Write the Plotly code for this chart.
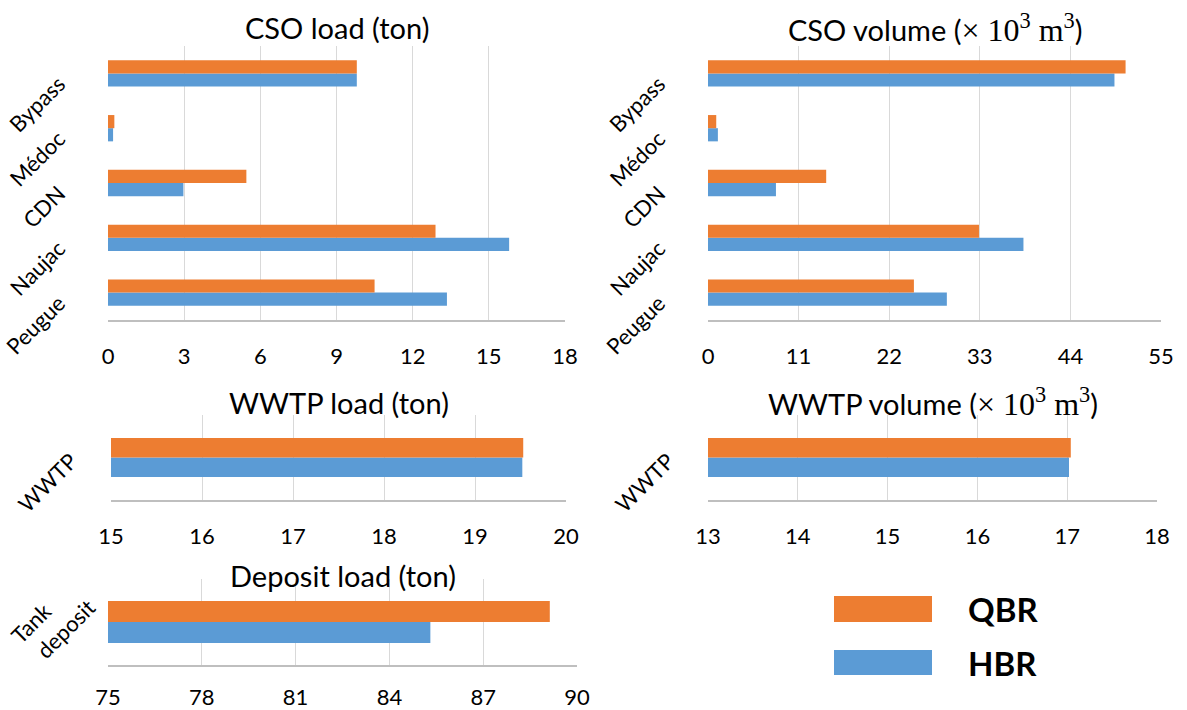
import plotly.graph_objects as go

# ---- data -------------------------------------------------------------
series_names = ["QBR", "HBR"]

cso_sites = ["Peugue", "Naujac", "CDN", "Médoc", "Bypass"]
cso_load_qbr = [10.5, 12.9, 5.45, 0.25, 9.8]
cso_load_hbr = [13.35, 15.8, 2.97, 0.2, 9.8]
cso_volume_qbr = [25.0, 32.9, 14.35, 1.0, 50.7]
cso_volume_hbr = [29.0, 38.3, 8.25, 1.2, 49.35]

wwtp_site = ["WWTP"]
wwtp_load_qbr = [19.53]
wwtp_load_hbr = [19.52]
wwtp_volume_qbr = [17.04]
wwtp_volume_hbr = [17.02]

deposit_site = ["Tank deposit"]
deposit_load_qbr = [89.13]
deposit_load_hbr = [85.31]

cso_load_ticks = [0, 3, 6, 9, 12, 15, 18]
cso_volume_ticks = [0, 11, 22, 33, 44, 55]
wwtp_load_ticks = [15, 16, 17, 18, 19, 20]
wwtp_volume_ticks = [13, 14, 15, 16, 17, 18]
deposit_load_ticks = [75, 78, 81, 84, 87, 90]

# ---- styling ----------------------------------------------------------
W, H = 1187, 710
ORANGE = "#ED7D31"
BLUE = "#5B9BD5"
FONT = "Lato"
MATH = "Liberation Serif"
GRID = "#d9d9d9"
AXIS = "#bfbfbf"

vol_unit = (f"<span style='font-family:{MATH};font-size:32px'>× 10<sup>3</sup> "
            f"m<sup>3</sup></span>")


def label_text(name):
    # two-word labels are split onto two lines; the first line is padded so
    # that both lines end level once rotated
    words = name.split(" ")
    if len(words) == 2:
        return words[0] + "\u00a0" * 6 + "<br>" + words[1]
    return name


# (title, categories, qbr, hbr, ticks, x-domain px, y-domain px, bar width,
#  x tick-label standoff, category-label standoff, category-label shift)
panels = [
    ("CSO load (ton)", cso_sites, cso_load_qbr, cso_load_hbr,
     cso_load_ticks, (108, 565), (46, 320), 0.24, 16, 48, 8),
    (f"CSO volume ({vol_unit})", cso_sites, cso_volume_qbr, cso_volume_hbr,
     cso_volume_ticks, (708, 1161), (46, 320), 0.24, 16, 48, 8),
    ("WWTP load (ton)", wwtp_site, wwtp_load_qbr, wwtp_load_hbr,
     wwtp_load_ticks, (111, 566), (415, 500), 0.228, 16, 39, 1),
    (f"WWTP volume ({vol_unit})", wwtp_site, wwtp_volume_qbr, wwtp_volume_hbr,
     wwtp_volume_ticks, (708, 1157), (415, 500), 0.228, 16, 39, 1),
    ("Deposit load (ton)", deposit_site, deposit_load_qbr, deposit_load_hbr,
     deposit_load_ticks, (108, 577), (579, 665), 0.245, 12, 18, -17),
]
title_y_px = [28, 28, 402, 402, 575]

fig = go.Figure()
layout = {}
annotations = []

for i, (title, cats, qbr, hbr, ticks, xd, yd, bw, so, cso, csh) in enumerate(panels, start=1):
    xa = "x" if i == 1 else f"x{i}"
    ya = "y" if i == 1 else f"y{i}"
    xkey = "xaxis" if i == 1 else f"xaxis{i}"
    ykey = "yaxis" if i == 1 else f"yaxis{i}"

    fig.add_trace(go.Bar(y=cats, x=hbr, orientation="h", name=series_names[1],
                         marker=dict(color=BLUE, line=dict(width=0)),
                         width=bw, offset=-bw, xaxis=xa, yaxis=ya,
                         showlegend=False, hoverinfo="x+y+name"))
    fig.add_trace(go.Bar(y=cats, x=qbr, orientation="h", name=series_names[0],
                         marker=dict(color=ORANGE, line=dict(width=0)),
                         width=bw, offset=0, xaxis=xa, yaxis=ya,
                         showlegend=False, hoverinfo="x+y+name"))

    layout[xkey] = dict(
        domain=[xd[0] / W, xd[1] / W], anchor=ya, automargin=False,
        range=[ticks[0], ticks[-1]], tickvals=ticks,
        showgrid=True, gridcolor=GRID, gridwidth=1,
        showline=True, linecolor=AXIS, linewidth=1.5,
        zeroline=False, ticks="", ticklabelstandoff=so,
        tickfont=dict(family=FONT, size=22, color="#000"),
        fixedrange=True,
    )
    layout[ykey] = dict(
        domain=[1 - yd[1] / H, 1 - yd[0] / H], anchor=xa, automargin=False,
        type="category", categoryorder="array", categoryarray=cats,
        tickvals=cats, ticktext=[label_text(c) for c in cats],
        range=[-0.5, len(cats) - 0.5],
        showgrid=False, showline=False, zeroline=False, ticks="",
        tickangle=-45, ticklabelstandoff=cso, ticklabelshift=csh,
        tickfont=dict(family=FONT, size=22, color="#000"),
        fixedrange=True,
    )
    annotations.append(dict(
        text=title, xref="paper", yref="paper",
        x=(xd[0] + xd[1]) / 2 / W, y=1 - title_y_px[i - 1] / H,
        xanchor="center", yanchor="middle", showarrow=False,
        font=dict(family=FONT, size=29, color="#000"),
    ))

# legend drawn as swatches with bold labels
legend_colors = [ORANGE, BLUE]
legend_rows_px = [(596, 622), (650, 675)]
shapes = []
for name, color, (y0, y1) in zip(series_names, legend_colors, legend_rows_px):
    shapes.append(dict(type="rect", xref="paper", yref="paper",
                       x0=834 / W, x1=932 / W, y0=1 - y1 / H, y1=1 - y0 / H,
                       fillcolor=color, line=dict(width=0)))
    annotations.append(dict(
        text=f"<b>{name}</b>", xref="paper", yref="paper",
        x=966 / W, y=1 - (y0 + y1) / 2 / H, xanchor="left", yanchor="middle",
        showarrow=False, font=dict(family=FONT, size=33, color="#000"),
    ))

fig.update_layout(
    width=W, height=H, autosize=False,
    margin=dict(l=0, r=0, t=0, b=0, autoexpand=False),
    paper_bgcolor="white", plot_bgcolor="white",
    showlegend=False,
    annotations=annotations, shapes=shapes,
    font=dict(family=FONT),
    **layout,
)

fig.write_html("out.html", config={"displayModeBar": False})
